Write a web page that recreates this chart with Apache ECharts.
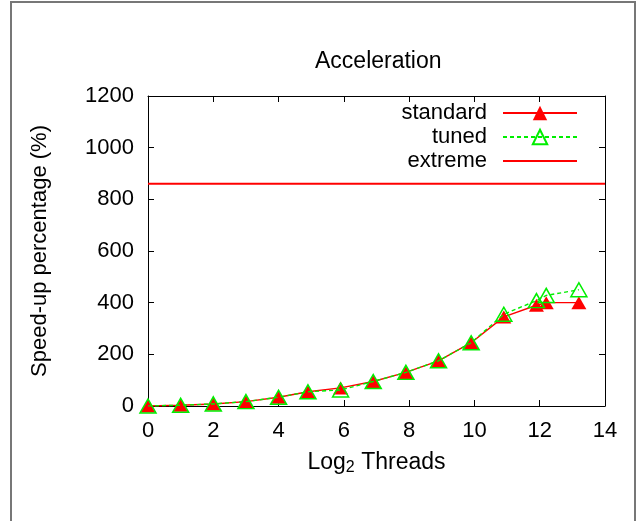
<!DOCTYPE html>
<html>
<head>
<meta charset="utf-8">
<script src="https://cdn.jsdelivr.net/npm/echarts@6/dist/echarts.min.js"></script>
<style>
  html, body { margin: 0; padding: 0; background: #fff; }
  #chart { width: 640px; height: 521px; }
</style>
</head>
<body>
<div id="chart"></div>
<script>
  // log2 of thread count
  const log2Threads = [0, 1, 2, 3, 4, 4.9, 5.9, 6.9, 7.9, 8.9, 9.9, 10.9, 11.9, 12.2, 13.2]
  // speed-up percentage
  const standardValues = [0, 3, 8, 17, 34, 55, 70, 95, 130, 175, 245, 345, 390, 400, 400]
  const tunedValues = [0, 3, 8, 17, 34, 55, 62, 95, 130, 175, 245, 355, 408, 428, 450]
  const extremeLevel = 860
  const xRange = [0, 14]
  const yTicks = [0, 200, 400, 600, 800, 1000, 1200]

  const font = 'Liberation Sans, Arial, sans-serif'
  const chart = echarts.init(document.getElementById('chart'))

  const pairs = (xs, ys) => xs.map((x, i) => [x, ys[i]])

  const axisCommon = {
    type: 'value',
    axisLine: { show: true, onZero: false, lineStyle: { color: '#000', width: 1 } },
    axisTick: { show: true, inside: true, length: 6, lineStyle: { color: '#000' } },
    splitLine: { show: false }
  }

  const legendCommon = {
    orient: 'horizontal',
    align: 'right',
    right: 57,
    itemWidth: 74,
    itemHeight: 18,
    itemGap: 0,
    textStyle: { fontFamily: font, fontSize: 22, color: '#000', padding: [0, 11, 0, 0] }
  }

  const option = {
    animation: false,
    backgroundColor: '#fff',
    title: {
      text: 'Acceleration',
      left: 310,
      top: 45,
      textStyle: { fontFamily: font, fontSize: 23, fontWeight: 'normal', color: '#000' }
    },
    legend: [
      Object.assign({ data: ['standard'], top: 97 }, legendCommon),
      Object.assign({ data: ['tuned'], top: 121 }, legendCommon),
      Object.assign({ data: ['extreme'], top: 145, itemStyle: { opacity: 0 } }, legendCommon)
    ],
    grid: { left: 148, right: 35, top: 96, bottom: 115 },
    xAxis: [
      Object.assign({}, axisCommon, {
        min: xRange[0], max: xRange[1], interval: 2,
        position: 'bottom',
        axisLabel: { fontFamily: font, fontSize: 22, color: '#000', margin: 14 },
        name: '{a|Log}{s|2}{a| Threads}',
        nameLocation: 'middle',
        nameGap: 44,
        nameTextStyle: {
          rich: {
            a: { fontFamily: font, fontSize: 23, color: '#000', lineHeight: 26, verticalAlign: 'middle' },
            s: { fontFamily: font, fontSize: 16, color: '#000', lineHeight: 14, verticalAlign: 'bottom' }
          }
        }
      }),
      Object.assign({}, axisCommon, {
        min: xRange[0], max: xRange[1], interval: 2,
        position: 'top',
        axisLabel: { show: false }
      })
    ],
    yAxis: [
      Object.assign({}, axisCommon, {
        min: yTicks[0], max: yTicks[yTicks.length - 1], interval: 200,
        position: 'left',
        axisLabel: { fontFamily: font, fontSize: 22, color: '#000', margin: 14, formatter: v => String(v) },
        name: 'Speed-up percentage (%)',
        nameLocation: 'middle',
        nameGap: 97,
        nameTextStyle: { fontFamily: font, fontSize: 22, color: '#000' }
      }),
      Object.assign({}, axisCommon, {
        min: yTicks[0], max: yTicks[yTicks.length - 1], interval: 200,
        position: 'right',
        axisLabel: { show: false }
      })
    ],
    graphic: [
      {
        type: 'rect',
        shape: { x: 11, y: 2, width: 624, height: 540 },
        style: { fill: 'none', stroke: '#777', lineWidth: 2 },
        silent: true
      }
    ],
    series: [
      {
        name: 'standard',
        type: 'line',
        data: pairs(log2Threads, standardValues),
        symbol: 'triangle',
        symbolSize: [15, 13],
        showAllSymbol: true,
        lineStyle: { color: '#ff0000', width: 1.4 },
        itemStyle: { color: '#ff0000', borderColor: '#ff0000', borderWidth: 0 },
        z: 2
      },
      {
        name: 'tuned',
        type: 'line',
        data: pairs(log2Threads, tunedValues),
        symbol: 'triangle',
        symbolSize: [16, 14],
        showAllSymbol: true,
        lineStyle: { color: '#00ee00', width: 1.4, type: [4, 3] },
        itemStyle: { color: 'rgba(0,0,0,0)', borderColor: '#00ee00', borderWidth: 1.5 },
        z: 3
      },
      {
        name: 'extreme',
        type: 'line',
        data: [[xRange[0], extremeLevel], [xRange[1], extremeLevel]],
        showSymbol: false,
        symbol: 'none',
        lineStyle: { color: '#ff0000', width: 2 },
        itemStyle: { color: '#ff0000' },
        z: 4
      }
    ]
  }

  chart.setOption(option)
</script>
</body>
</html>
